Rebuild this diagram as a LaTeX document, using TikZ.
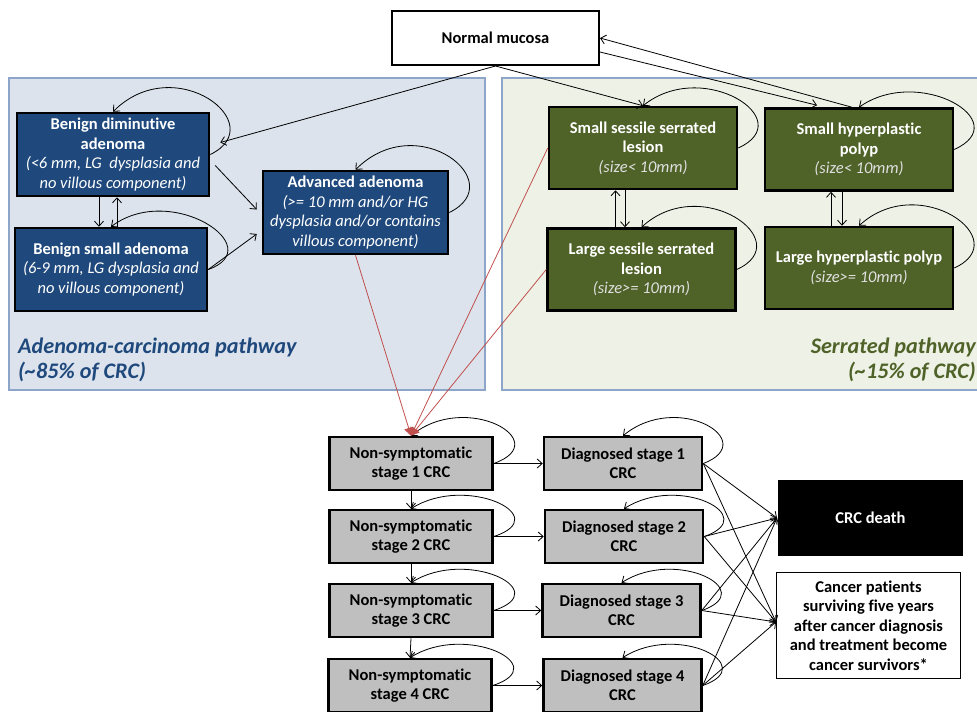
\documentclass[tikz,border=0pt]{standalone}
\usepackage{fontspec}
\setmainfont[Ligatures=NoCommon]{Carlito}
\usetikzlibrary{arrows.meta,calc}
\definecolor{boxblue}{HTML}{1F497D}
\definecolor{boxgreen}{HTML}{4F6228}
\definecolor{boxgray}{HTML}{BFBFBF}
\definecolor{panelblue}{HTML}{DCE3EC}
\definecolor{panelgreen}{HTML}{EEF2E6}
\definecolor{panelborder}{HTML}{8CA5C8}
\definecolor{redline}{HTML}{C0504D}
\definecolor{labelblue}{HTML}{1F497D}
\definecolor{labelgreen}{HTML}{4F6228}
\newcommand\subtxt[1]{{\mdseries\itshape #1}}
\newcommand\selfloop[3]{\draw[conn] (#1.east) .. controls ($(#1.east)+(#2)$) and ($(#1.north)+(#3)$) .. (#1.north);}
\begin{document}
\begin{tikzpicture}[x=1pt,y=-1pt,
  basebox/.style={draw=black, line width=2.5pt, align=center, inner sep=2pt,
    font=\fontsize{16.5}{19.5}\selectfont\bfseries},
  bluebox/.style={basebox, fill=boxblue, text=white, minimum width=192pt, minimum height=83pt},
  greenbox/.style={basebox, fill=boxgreen, text=white, minimum width=188pt, minimum height=82pt},
  graybox/.style={basebox, fill=boxgray, text=black, minimum width=163pt, minimum height=53pt},
  dgbox/.style={basebox, fill=boxgray, text=black, minimum width=158pt, minimum height=53pt},
  conn/.style={draw=black, line width=0.8pt, -{Straight Barb[length=5pt,width=9pt]}},
  redconn/.style={draw=redline, line width=0.8pt, -{Triangle[length=8pt,width=9pt]}},
  panel/.style={draw=panelborder, line width=1.2pt},
  panellabel/.style={font=\fontsize{22.2}{25.5}\selectfont\bfseries\itshape, inner sep=0pt}
]
\useasboundingbox (0,0) rectangle (977,712);

% panels
\path[panel, fill=panelblue] (9,78) rectangle (485,390);
\path[panel, fill=panelgreen] (502,78) rectangle (995,390);
\node[panellabel, text=labelblue, anchor=west, align=left] (lablA) at (18,360)
  {Adenoma-carcinoma pathway\\(\textasciitilde85\% of CRC)};
\node[panellabel, text=labelgreen, anchor=east, align=right] (lablS) at (976,360)
  {Serrated pathway\\(\textasciitilde15\% of CRC)};

% top node
\node[basebox, line width=2pt, fill=white, text=black, minimum width=207pt, minimum height=54pt] (nm) at (495.5,38) {Normal mucosa};

% adenoma pathway
\node[bluebox] (dim) at (113,154.5) {Benign diminutive\\adenoma\\\subtxt{(<6 mm, LG\ \ dysplasia and}\\\subtxt{no villous component)}};
\node[bluebox] (small) at (111,269.5) {Benign small adenoma\\\subtxt{(6-9 mm, LG dysplasia and}\\\subtxt{no villous component)}};
\node[bluebox, minimum width=185pt] (adv) at (355.5,212.5) {Advanced adenoma\\\subtxt{(>= 10 mm and/or HG}\\\subtxt{dysplasia and/or contains}\\\subtxt{villous component)}};

% serrated pathway
\node[greenbox] (ssl) at (643,148) {Small sessile serrated\\lesion\\\subtxt{\color{white!88!black}(size< 10mm)}};
\node[greenbox] (shp) at (859,149.5) {Small hyperplastic\\polyp\\\subtxt{\color{white!88!black}(size< 10mm)}};
\node[greenbox] (lsl) at (641.5,269.5) {Large sessile serrated\\lesion\\\subtxt{\color{white!88!black}(size>= 10mm)}};
\node[greenbox] (lhp) at (859,268) {Large hyperplastic polyp\\\subtxt{\color{white!88!black}(size>= 10mm)}};

% CRC stages
\node[graybox] (ns1) at (411,463.5) {Non-symptomatic\\stage 1 CRC};
\node[graybox] (ns2) at (411,536.5) {Non-symptomatic\\stage 2 CRC};
\node[graybox] (ns3) at (411,610.5) {Non-symptomatic\\stage 3 CRC};
\node[graybox] (ns4) at (410,685.5) {Non-symptomatic\\stage 4 CRC};
\node[dgbox] (ds1) at (623,463.5) {Diagnosed stage 1\\CRC};
\node[dgbox] (ds2) at (624,536.5) {Diagnosed stage 2\\CRC};
\node[dgbox] (ds3) at (621.5,610.5) {Diagnosed stage 3\\CRC};
\node[dgbox] (ds4) at (622.5,685.5) {Diagnosed stage 4\\CRC};

\node[basebox, fill=black, text=white, minimum width=183pt, minimum height=74pt] (death) at (870.5,518) {CRC death};
\node[basebox, line width=1.5pt, fill=white, text=black, minimum width=184pt, minimum height=106pt] (surv) at (868.5,625.5)
  {Cancer patients\\surviving five years\\after cancer diagnosis\\and treatment become\\cancer survivors*};
\coordinate (deathin) at (777,518);
\coordinate (survin) at (776,622);

% self loops
\selfloop{dim}{62,-30}{62,-62}
\selfloop{small}{62,-22}{60,-45}
\selfloop{adv}{62,-30}{62,-62}
\selfloop{ssl}{62,-28}{60,-48}
\selfloop{shp}{62,-28}{60,-42}
\selfloop{lsl}{62,-28}{60,-55}
\selfloop{lhp}{62,-28}{60,-55}
\selfloop{ns1}{62,-22}{55,-45}
\selfloop{ns2}{62,-20}{55,-35}
\selfloop{ns3}{62,-20}{55,-35}
\selfloop{ns4}{62,-20}{55,-35}
\selfloop{ds1}{58,-22}{55,-45}
\selfloop{ds2}{58,-20}{55,-35}
\selfloop{ds3}{58,-20}{55,-35}
\selfloop{ds4}{58,-20}{55,-35}

% normal mucosa connections
\draw[conn] (nm.south) -- ($(dim.east)+(10,-12)$);
\draw[conn] (nm.south) -- (ssl.north);
\draw[conn] ($(nm.east)+(0,14)$) -- ($(shp.north)+(-42,-2)$);
\draw[conn] ($(shp.north)+(-7,0)$) -- (nm.east);

% adenoma transitions
\draw[conn] ($(dim.south)+(-14,0)$) -- ($(small.north)+(-12,0)$);
\draw[conn] ($(small.north)+(6,0)$) -- ($(dim.south)+(4,0)$);
\draw[conn] ($(dim.east)+(5,11)$) -- ($(adv.west)+(-5,-3)$);
\draw[conn] (small.east) -- ($(adv.west)+(-5,21.5)$);

% serrated transitions
\draw[conn] ($(lsl.north)+(-26,0)$) -- ($(ssl.south)+(-27.5,0)$);
\draw[conn] ($(ssl.south)+(-18,0)$) -- ($(lsl.north)+(-16.5,0)$);
\draw[conn] ($(lhp.north)+(-28,0)$) -- ($(shp.south)+(-28,0)$);
\draw[conn] ($(shp.south)+(-17,0)$) -- ($(lhp.north)+(-17,0)$);

% red connectors to CRC
\draw[redconn] (adv.south) -- (ns1.north);
\draw[redconn] (ssl.west) -- (ns1.north);
\draw[redconn] (lsl.west) -- (ns1.north);

% stage progression
\draw[conn] (ns1.south) -- (ns2.north);
\draw[conn] (ns2.south) -- (ns3.north);
\draw[conn] (ns3.south) -- (ns4.north);
\draw[conn] (ns1.east) -- (ds1.west);
\draw[conn] (ns2.east) -- (ds2.west);
\draw[conn] (ns3.east) -- (ds3.west);
\draw[conn] (ns4.east) -- (ds4.west);

% outcomes
\foreach \d in {ds1,ds2,ds3,ds4}{
  \draw[conn] (\d.east) -- (deathin);
  \draw[conn] (\d.east) -- (survin);
}
\end{tikzpicture}
\end{document}
